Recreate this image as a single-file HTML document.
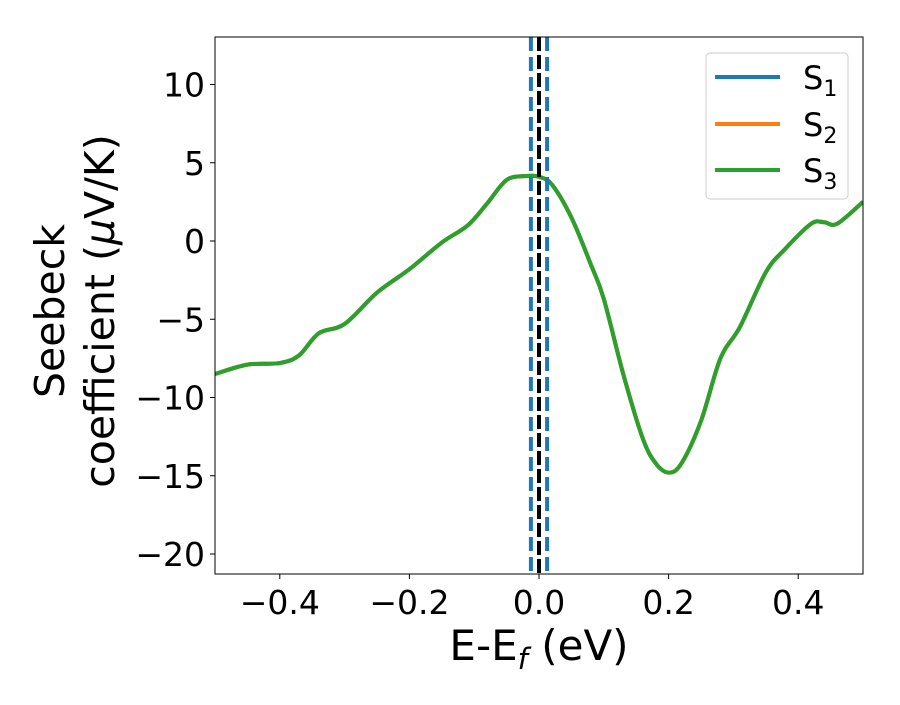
<!DOCTYPE html>
<html><head><meta charset="utf-8"><style>body{margin:0;background:#fff}svg{font-family:"DejaVu Sans","Liberation Sans",sans-serif}</style></head>
<body>
<svg id="chart" width="900" height="700">
</svg>
<script>
const xs=[-0.5,-0.45,-0.4,-0.37,-0.34,-0.3,-0.25,-0.2,-0.15,-0.11,-0.08,-0.05,-0.02,0.0,0.02,0.05,0.08,0.1,0.13,0.16,0.18,0.2,0.22,0.25,0.28,0.31,0.35,0.38,0.42,0.44,0.46,0.5];
const s1=[-8.5,-7.9,-7.8,-7.3,-5.9,-5.3,-3.3,-1.8,-0.1,1.0,2.4,3.9,4.15,4.1,3.6,1.5,-1.5,-3.7,-8.5,-12.6,-14.2,-14.8,-14.2,-11.5,-7.5,-5.5,-2.0,-0.5,1.1,1.2,1.1,2.5];
const s2=s1.slice();
const s3=s1.slice();
const xTicks=[-0.4,-0.2,0.0,0.2,0.4];
const xTickLabels=["\u22120.4","\u22120.2","0.0","0.2","0.4"];
const yTicks=[10,5,0,-5,-10,-15,-20];
const yTickLabels=["10","5","0","\u22125","\u221210","\u221215","\u221220"];
const vlines=[-0.0125,0.0125];

const L=215,R=863,T=37,B=574,xmin=-0.5,xmax=0.5;
const X=v=>L+(v-xmin)/(xmax-xmin)*(R-L);
const Y=v=>241-v*15.65;
const svg=document.getElementById('chart');
const NS='http://www.w3.org/2000/svg';
function mk(t,a,p){const e=document.createElementNS(NS,t);for(const k in a)e.setAttribute(k,a[k]);(p||svg).appendChild(e);return e;}
const clip=mk('clipPath',{id:'c'});mk('rect',{x:L,y:T,width:R-L,height:B-T},clip);
function smooth(ys){const p=xs.map((x,i)=>[X(x),Y(ys[i])]);let d='M'+p[0];for(let i=0;i<p.length-1;i++){const a=p[Math.max(0,i-1)],b=p[i],c=p[i+1],e=p[Math.min(p.length-1,i+2)];const c1=[b[0]+(c[0]-a[0])/6,b[1]+(c[1]-a[1])/6],c2=[c[0]-(e[0]-b[0])/6,c[1]-(e[1]-b[1])/6];d+=' C'+c1+' '+c2+' '+c;}return d;}
[[s1,'#1f77b4','series-s1'],[s2,'#ff7f0e','series-s2'],[s3,'#2ca02c','series-s3']].forEach(([d,c,n])=>{
const el=mk('path',{d:smooth(d),fill:'none',stroke:c,'stroke-width':4,'clip-path':'url(#c)'});

});
const fl=mk('line',{x1:X(0),x2:X(0),y1:T,y2:B,stroke:'#000','stroke-width':4,'stroke-dasharray':'14 4'});


vlines.forEach(v=>{const el=mk('line',{x1:X(v),x2:X(v),y1:T,y2:B,stroke:'#1f77b4','stroke-width':4,'stroke-dasharray':'14 6'});

});
const fr=mk('rect',{x:L,y:T,width:R-L,height:B-T,fill:'none',stroke:'#000','stroke-width':1});


xTicks.forEach((v,i)=>{mk('line',{x1:X(v),x2:X(v),y1:B,y2:B+5,stroke:'#000'});
const t=mk('text',{x:X(v),y:B+40,'font-size':33,'text-anchor':'middle'});t.textContent=xTickLabels[i];

});
yTicks.forEach((v,i)=>{mk('line',{x1:L-5,x2:L,y1:Y(v),y2:Y(v),stroke:'#000'});
const t=mk('text',{x:L-10,y:Y(v)+12,'font-size':33,'text-anchor':'end'});t.textContent=yTickLabels[i];

});
</script>
<svg style="position:absolute;left:0;top:0" width="900" height="700">
<text x="539" y="660" font-size="42" text-anchor="middle" font-family="DejaVu Sans,sans-serif">E-E<tspan font-style="italic" font-size="29" dy="9">f</tspan><tspan dy="-9"> (eV)</tspan></text>
<g transform="translate(64,311) rotate(-90)" font-family="DejaVu Sans,sans-serif" font-size="41">
<text x="0" y="0" text-anchor="middle">Seebeck</text>
<text x="0" y="50" text-anchor="middle">coefficient  (<tspan font-style="italic">μ</tspan>V/K)</text></g>
<g font-family="DejaVu Sans,sans-serif">
<rect x="706" y="53" width="142" height="146" rx="4" fill="#fff" stroke="#ccc"/>
<line x1="715" x2="780" y1="77" y2="77" stroke="#1f77b4" stroke-width="4"/>
<text x="803" y="89" font-size="32">S<tspan font-size="22" dy="7">1</tspan></text>
<line x1="715" x2="780" y1="124" y2="124" stroke="#ff7f0e" stroke-width="4"/>
<text x="803" y="136" font-size="32">S<tspan font-size="22" dy="7">2</tspan></text>
<line x1="715" x2="780" y1="170" y2="170" stroke="#2ca02c" stroke-width="4"/>
<text x="803" y="182" font-size="32">S<tspan font-size="22" dy="7">3</tspan></text>
</g>
</svg>
</body></html>
